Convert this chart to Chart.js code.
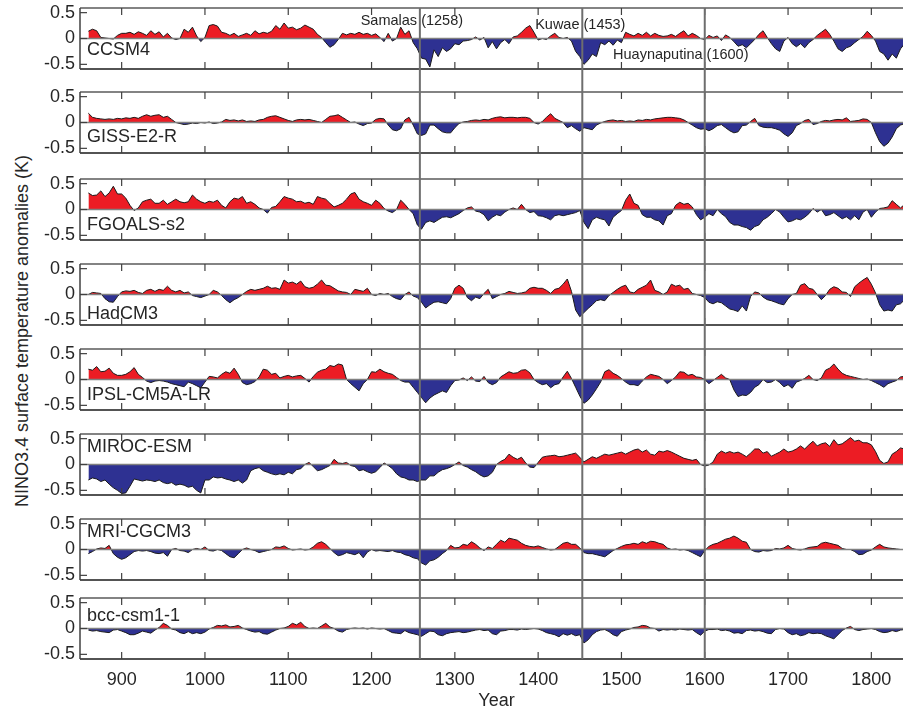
<!DOCTYPE html>
<html>
<head>
<meta charset="utf-8">
<title>NINO3.4 anomalies after eruptions</title>
<script src="https://cdn.jsdelivr.net/npm/chart.js@4.4.0/dist/chart.umd.min.js"></script>
<style>
  html, body { margin: 0; padding: 0; background: #fff; overflow: hidden; }
  #figure { position: relative; width: 903px; height: 710px; overflow: hidden; }
  #figure canvas { position: absolute; left: 0; }
  #ytitle {
    position: absolute; left: 22px; top: 331px;
    transform: translate(-50%, -50%) rotate(-90deg);
    font: 18px 'Liberation Sans', Arial, sans-serif; color: #262626; white-space: nowrap;
  }
</style>
</head>
<body>
<div id="figure">
  <div id="ytitle">NINO3.4 surface temperature anomalies (K)</div>
</div>
<script>
// values every 5 years, 860 .. 1840
const startYear = 860;
const yearStep = 5;

const modelNames = ['CCSM4', 'GISS-E2-R', 'FGOALS-s2', 'HadCM3', 'IPSL-CM5A-LR', 'MIROC-ESM', 'MRI-CGCM3', 'bcc-csm1-1'];

const ccsm4 = [
  0.14, 0.18, 0.15, 0.02, 0.01, 0.0, -0.01, 0.06, 0.1, 0.1,
  0.12, 0.08, 0.13, 0.1, 0.06, 0.15, 0.08, 0.13, 0.03, 0.1,
  0.01, -0.02, 0.0, 0.18, 0.12, 0.22, 0.05, -0.06, 0.02, 0.25,
  0.27, 0.24, 0.12, 0.1, 0.06, 0.1, 0.04, 0.07, 0.1, 0.06,
  0.15, 0.09, 0.12, 0.1, 0.14, 0.25, 0.18, 0.3, 0.2, 0.22,
  0.17, 0.2, 0.26, 0.22, 0.18, 0.08, 0.02, -0.08, -0.17, -0.12,
  -0.02, 0.1, 0.07, 0.1, 0.08, 0.12, 0.08, 0.1, 0.06, 0.09,
  0.02, -0.06, 0.1, -0.05, 0.0, 0.22, 0.08, 0.15, -0.08, -0.2,
  -0.38, -0.4, -0.55, -0.22, -0.35, -0.18, -0.25, -0.2, -0.1, -0.12,
  -0.05, -0.04, -0.02, 0.03, -0.03, 0.02, -0.18, -0.06, -0.2, -0.08,
  -0.02, -0.1, 0.03, 0.05, 0.12, 0.2, 0.25, 0.12, -0.03, 0.0,
  -0.02, 0.05, 0.1, 0.02, 0.0, 0.02, -0.05, -0.25, -0.35, -0.5,
  -0.42, -0.3, -0.35, -0.08, -0.12, -0.05, -0.13, -0.03, -0.08, 0.12,
  0.08, 0.05, 0.1, 0.06, 0.12, 0.05, 0.1, 0.06, 0.04, 0.05,
  0.08, 0.04, 0.1, 0.15, 0.05, 0.1, 0.06, 0.0, -0.02, 0.06,
  0.02, 0.05, -0.04, 0.07, 0.02, -0.06, -0.15, -0.12, -0.18, -0.1,
  -0.02, 0.08, 0.15, 0.02, -0.1, -0.2, -0.25, -0.05, 0.02, -0.1,
  -0.16, -0.1, -0.18, -0.08, -0.02, 0.06, 0.12, 0.18, 0.08, -0.05,
  -0.2, -0.25, -0.18, -0.15, -0.08, -0.02, 0.04, 0.14, 0.06, -0.05,
  -0.25, -0.3, -0.42, -0.3, -0.38, -0.2, -0.1
];

const gissE2R = [
  0.18, 0.1, 0.08, 0.07, 0.06, 0.07, 0.06, 0.08, 0.07, 0.09,
  0.08, 0.1, 0.08, 0.12, 0.15, 0.12, 0.14, 0.15, 0.1, 0.12,
  0.06, 0.0, -0.02, -0.04, -0.03, -0.01, -0.02, 0.0, -0.01, 0.01,
  -0.02, -0.01, 0.01, 0.06, 0.04, 0.05, 0.03, 0.05, 0.02, 0.03,
  0.02, 0.05, 0.06, 0.1, 0.12, 0.13, 0.1, 0.07, 0.04, 0.02,
  0.05, 0.06, 0.05, 0.06, 0.04, 0.02, 0.0, 0.06, 0.12, 0.13,
  0.15, 0.1, 0.05, 0.0, 0.01, -0.03, -0.06, -0.02, -0.01, 0.06,
  0.08, 0.07, -0.05, -0.14, -0.16, -0.12, 0.05, 0.1, -0.05, -0.22,
  -0.25, -0.22, -0.05, -0.05, -0.12, -0.18, -0.2, -0.2, -0.1, -0.02,
  0.01, 0.02, 0.04, 0.05, 0.04, 0.06, 0.05, 0.08, 0.1, 0.11,
  0.09, 0.1, 0.1, 0.09, 0.1, 0.1, 0.08, 0.0, -0.03, 0.02,
  0.1, 0.17, 0.08, 0.04, 0.0, -0.1, -0.06, -0.12, -0.17, -0.1,
  -0.12, -0.14, -0.05, -0.01, 0.02, 0.04, 0.05, 0.03, 0.04, 0.02,
  0.03, 0.02, 0.05, 0.04, 0.06, 0.05, 0.07, 0.08, 0.09, 0.1,
  0.1, 0.09, 0.08, 0.05, 0.0, -0.05, -0.1, -0.13, -0.12, -0.16,
  -0.12, -0.06, -0.04, -0.1, -0.16, -0.2, -0.18, -0.06, -0.05, 0.02,
  0.08, -0.06, -0.09, -0.1, -0.1, -0.12, -0.15, -0.22, -0.27, -0.2,
  -0.06, -0.02, 0.04, 0.06, -0.04, -0.02, 0.02, 0.04, 0.03, 0.05,
  0.06, 0.05, 0.09, 0.02, 0.03, 0.04, 0.07, 0.06, 0.0, -0.2,
  -0.37, -0.46, -0.4, -0.28, -0.12, -0.05, -0.02
];

const fgoalsS2 = [
  0.32, 0.27, 0.28, 0.36, 0.25, 0.32, 0.45, 0.3, 0.3, 0.22,
  0.08, -0.02, 0.03, 0.15, 0.18, 0.2, 0.12, 0.12, 0.18, 0.1,
  0.15, 0.2, 0.15, 0.13, 0.15, 0.28, 0.2, 0.15, 0.12, 0.16,
  0.14, 0.18, 0.08, 0.03, 0.15, 0.22, 0.2, 0.25, 0.12, 0.15,
  0.1, 0.03, 0.0, -0.07, 0.04, 0.06, 0.15, 0.25, 0.22, 0.2,
  0.15, 0.16, 0.12, 0.14, 0.1, 0.25, 0.22, 0.2, 0.12, 0.05,
  0.08, 0.12, 0.2, 0.3, 0.33, 0.2, 0.15, 0.12, 0.08, 0.18,
  0.12, 0.02, -0.03, -0.06, 0.0, 0.18, 0.1, 0.0, -0.08, -0.3,
  -0.38, -0.25, -0.22, -0.25, -0.2, -0.15, -0.14, -0.16, -0.12, -0.08,
  -0.02, 0.03, 0.05, -0.03, -0.05, -0.1, -0.22, -0.15, -0.1, -0.12,
  -0.05, 0.0, 0.03, 0.0, 0.1, 0.0, -0.06, -0.04, -0.12, -0.13,
  -0.16, -0.2, -0.12, -0.1, -0.12, -0.1, -0.08, -0.06, -0.02, -0.25,
  -0.37, -0.2, -0.15, -0.18, -0.2, -0.32, -0.15, -0.08, -0.02, 0.18,
  0.3, 0.12, 0.08, -0.1, -0.15, -0.15, -0.2, -0.22, -0.3, -0.12,
  -0.08, 0.08, 0.14, 0.1, 0.12, 0.05, -0.1, -0.2, -0.15, -0.08,
  -0.12, 0.0, -0.08, -0.14, -0.25, -0.3, -0.3, -0.33, -0.35, -0.4,
  -0.33, -0.3, -0.2, -0.15, -0.08, 0.0, -0.05, -0.15, -0.24, -0.22,
  -0.18, -0.2, -0.15, -0.08, 0.02, -0.05, 0.0, -0.12, -0.1, -0.06,
  -0.12, -0.18, -0.14, -0.2, -0.12, -0.2, -0.05, 0.0, -0.15, -0.05,
  0.02, 0.03, 0.05, 0.17, 0.1, 0.03, 0.1
];

const hadcm3 = [
  0.0, 0.04, 0.03, 0.02, -0.08, -0.14, -0.15, -0.04, 0.05, 0.07,
  0.06, 0.08, 0.04, 0.02, 0.08, 0.1, 0.06, 0.1, 0.08, 0.16,
  0.08, 0.05, 0.08, 0.03, 0.05, -0.02, -0.04, -0.06, -0.03, 0.0,
  0.08, 0.05, -0.02, -0.1, -0.16, -0.1, -0.06, 0.0, 0.06, 0.1,
  0.08, 0.1, 0.12, 0.16, 0.12, 0.13, 0.1, 0.28, 0.22, 0.24,
  0.2, 0.26, 0.15, 0.12, 0.14, 0.2, 0.28, 0.18, 0.17, 0.12,
  0.07, 0.05, 0.04, 0.0, 0.1, 0.08, 0.06, 0.12, 0.0, -0.02,
  0.02, 0.0, 0.02, -0.04, -0.08, -0.1, 0.0, 0.05, -0.03, -0.06,
  -0.15, -0.26, -0.2, -0.15, -0.14, -0.16, -0.18, -0.08, 0.12, 0.18,
  0.12, -0.06, -0.12, -0.05, -0.08, 0.02, 0.1, -0.08, -0.04, 0.0,
  0.02, 0.06, 0.04, 0.02, 0.03, 0.05, 0.12, 0.14, 0.12, 0.12,
  0.08, 0.02, 0.1, 0.12, 0.2, 0.3, 0.06, -0.3, -0.43, -0.35,
  -0.27, -0.2, -0.12, -0.1, -0.12, -0.02, 0.04, 0.1, 0.15, 0.18,
  0.05, 0.03, 0.1, 0.14, 0.18, 0.28, 0.08, 0.05, 0.0, 0.05,
  0.2, 0.16, 0.18, 0.1, 0.12, 0.02, 0.0, -0.02, -0.06, -0.15,
  -0.18, -0.14, -0.16, -0.22, -0.28, -0.3, -0.33, -0.22, -0.32, -0.04,
  0.05, 0.03, -0.05, -0.1, -0.12, -0.15, -0.18, -0.2, -0.08, 0.0,
  0.02, 0.18, 0.21, 0.12, 0.1, 0.0, -0.1, -0.02, 0.1, 0.15,
  0.12, 0.05, 0.04, -0.04, 0.15, 0.22, 0.28, 0.33, 0.2, 0.03,
  -0.2, -0.32, -0.3, -0.32, -0.2, -0.18, -0.1
];

const ipslCm5aLr = [
  0.2, 0.18, 0.25, 0.15, 0.16, 0.22, 0.12, 0.08, 0.08, 0.1,
  0.15, 0.23, 0.1, 0.04, -0.03, -0.06, -0.03, -0.02, -0.03, -0.05,
  -0.08, -0.1, -0.12, -0.14, -0.05, -0.08, -0.12, -0.16, -0.05, 0.06,
  0.05, 0.03, 0.1, 0.15, 0.12, 0.22, 0.1, -0.06, -0.1, -0.08,
  -0.04, 0.05, 0.2, 0.18, 0.1, 0.12, 0.03, 0.06, 0.08, 0.05,
  0.07, 0.08, 0.02, -0.05, 0.06, 0.14, 0.18, 0.2, 0.27, 0.25,
  0.3, 0.28, 0.0, -0.08, -0.15, -0.22, -0.08, 0.0, 0.15, 0.14,
  0.2, 0.15, 0.12, 0.1, 0.04, -0.02, -0.05, -0.05, -0.15, -0.25,
  -0.35, -0.45, -0.36, -0.3, -0.26, -0.22, -0.25, -0.12, -0.02, -0.01,
  0.03, -0.02, 0.05, -0.03, -0.04, 0.06, -0.06, -0.1, -0.06, 0.05,
  0.1, 0.15, 0.12, 0.13, 0.18, 0.19, 0.13, 0.0, -0.06, -0.1,
  -0.08, -0.16, -0.1, -0.08, 0.05, 0.16, 0.02, -0.15, -0.32, -0.46,
  -0.4, -0.3, -0.18, -0.05, 0.15, 0.19, 0.12, 0.08, 0.02, -0.05,
  -0.1, -0.1, -0.12, -0.03, 0.05, 0.1, 0.08, 0.06, 0.0, -0.08,
  -0.02, 0.05, 0.15, 0.14, 0.08, 0.1, 0.05, 0.04, 0.0, -0.08,
  -0.02, 0.04, 0.1, 0.03, 0.0, -0.2, -0.33, -0.3, -0.31, -0.25,
  -0.15, -0.1, 0.0, -0.06, -0.05, 0.0, -0.06, -0.14, -0.1, -0.17,
  -0.05, -0.02, 0.02, 0.08, 0.0, -0.02, 0.03, 0.18, 0.22, 0.3,
  0.2, 0.12, 0.08, 0.06, 0.04, 0.02, 0.0, 0.01, -0.02, -0.06,
  -0.1, -0.15, -0.08, -0.05, -0.02, 0.05, 0.06
];

const mirocEsm = [
  -0.3, -0.26, -0.28, -0.33, -0.3, -0.38, -0.45, -0.5, -0.56, -0.55,
  -0.42, -0.28, -0.3, -0.32, -0.3, -0.31, -0.33, -0.3, -0.35, -0.37,
  -0.35, -0.4, -0.38, -0.4, -0.44, -0.42, -0.5, -0.55, -0.3, -0.3,
  -0.24, -0.26, -0.25, -0.28, -0.3, -0.33, -0.3, -0.36, -0.3, -0.12,
  -0.08, -0.06, -0.12, -0.15, -0.18, -0.2, -0.18, -0.2, -0.15, -0.18,
  -0.1, -0.08, 0.0, 0.04, -0.04, -0.12, -0.1, -0.06, -0.02, 0.1,
  0.03, 0.02, 0.04, -0.02, -0.04, -0.12, -0.1, -0.14, -0.17, -0.14,
  -0.06, 0.03, -0.02, -0.08, -0.18, -0.24, -0.26, -0.3, -0.3, -0.33,
  -0.3, -0.3, -0.22, -0.22, -0.15, -0.1, -0.08, -0.05, 0.0, 0.05,
  -0.02, -0.05, -0.1, -0.14, -0.2, -0.24, -0.22, -0.15, 0.0, 0.06,
  0.1, 0.2, 0.14, 0.1, 0.14, 0.03, -0.05, -0.06, 0.04, 0.14,
  0.16, 0.17, 0.18, 0.15, 0.16, 0.18, 0.2, 0.22, 0.14, 0.05,
  0.1, 0.15, 0.12, 0.16, 0.2, 0.18, 0.2, 0.22, 0.24, 0.2,
  0.24, 0.28, 0.3, 0.24, 0.28, 0.2, 0.18, 0.26, 0.24, 0.27,
  0.24, 0.2, 0.16, 0.12, 0.1, 0.08, 0.1, 0.0, -0.03, -0.01,
  0.05, 0.2, 0.26, 0.22, 0.25, 0.22, 0.24, 0.2, 0.15, 0.22,
  0.3, 0.3, 0.22, 0.25, 0.16, 0.2, 0.24, 0.3, 0.24, 0.26,
  0.3, 0.36, 0.3, 0.38, 0.45, 0.36, 0.4, 0.42, 0.35, 0.48,
  0.38, 0.4, 0.46, 0.52, 0.45, 0.47, 0.42, 0.42, 0.38, 0.25,
  0.08, 0.02, 0.05, 0.2, 0.25, 0.32, 0.3
];

const mriCgcm3 = [
  -0.08, -0.04, 0.01, 0.03, 0.02, 0.08, -0.08, -0.15, -0.19, -0.16,
  -0.1, -0.04, -0.02, -0.03, -0.02, -0.04, -0.07, -0.08, -0.06, -0.13,
  0.0, 0.02, -0.02, -0.03, -0.06, 0.0, 0.02, 0.0, 0.05, -0.02,
  -0.03, 0.0, -0.02, -0.08, -0.14, -0.16, -0.08, 0.0, 0.03, 0.0,
  -0.02, -0.06, -0.04, -0.02, 0.0, 0.05, 0.04, 0.07, 0.02, -0.01,
  0.0, 0.01, -0.01, 0.0, 0.05, 0.12, 0.15, 0.1, 0.02, -0.06,
  -0.12, -0.1, -0.06, -0.08, -0.1, -0.06, -0.16, -0.05, 0.0, -0.03,
  -0.02, -0.03, -0.04, -0.02, -0.05, -0.06, -0.1, -0.12, -0.16, -0.18,
  -0.26, -0.3, -0.22, -0.2, -0.15, -0.08, -0.02, 0.08, 0.03, 0.04,
  0.1, 0.08, 0.15, 0.1, 0.03, -0.02, 0.05, 0.02, 0.1, 0.18,
  0.14, 0.22, 0.2, 0.18, 0.12, 0.08, 0.06, 0.05, 0.07, 0.04,
  0.01, -0.01, 0.0, 0.06, 0.12, 0.14, 0.1, 0.1, 0.03, -0.06,
  -0.08, -0.08, -0.1, -0.12, -0.14, -0.08, -0.02, 0.02, 0.06, 0.09,
  0.1, 0.12, 0.1, 0.15, 0.12, 0.16, 0.15, 0.12, 0.1, 0.03,
  0.0, 0.01, -0.01, 0.0, -0.02, -0.06, -0.1, -0.14, -0.02, 0.06,
  0.1, 0.12, 0.16, 0.2, 0.22, 0.26, 0.22, 0.16, 0.14, 0.0,
  -0.04, -0.05, -0.02, -0.03, -0.02, 0.02, 0.01, 0.03, 0.08, 0.02,
  0.0, -0.01, 0.01, 0.04, 0.05, 0.06, 0.12, 0.14, 0.12, 0.1,
  0.08, 0.02, 0.0, 0.0, -0.04, -0.1, -0.09, -0.04, -0.01, 0.05,
  0.1, 0.05, 0.03, 0.02, 0.01, 0.0, 0.0
];

const bccCsm11 = [
  -0.03, -0.05, -0.04, -0.06, -0.07, -0.08, -0.03, -0.02, -0.05, -0.08,
  -0.12, -0.12, -0.09, -0.05, -0.07, -0.09, -0.03, 0.02, 0.1, 0.06,
  -0.01, -0.03, -0.08, -0.1, -0.06, -0.1, -0.08, -0.1, -0.07, -0.01,
  0.02, 0.06, 0.05, 0.07, 0.03, 0.04, 0.06, 0.01, -0.02, -0.05,
  -0.07, -0.06, -0.1, -0.11, -0.07, -0.03, 0.0, 0.01, 0.04, 0.1,
  0.07, 0.12, 0.04, 0.0, 0.01, 0.0, 0.05, 0.1, 0.03, 0.0,
  -0.05, -0.07, -0.02, 0.0, 0.01, 0.0, 0.01, -0.01, 0.01, 0.0,
  -0.01, 0.0, -0.04, -0.08, -0.09, -0.1, -0.04, -0.08, -0.1, -0.12,
  -0.15, -0.1, -0.05, -0.06, -0.12, -0.14, -0.1, -0.08, -0.07, -0.06,
  -0.08, -0.07, -0.05, -0.03, -0.02, -0.04, -0.03, -0.1, -0.12, -0.05,
  -0.04, -0.02, -0.02, -0.03, -0.01, -0.02, -0.01, 0.0, -0.01, -0.04,
  -0.08, -0.1, -0.12, -0.16, -0.1, -0.13, -0.1, -0.14, -0.12, -0.28,
  -0.22, -0.12, -0.06, -0.03, -0.02, -0.06, -0.12, -0.15, -0.06, -0.03,
  -0.01, 0.02, 0.03, 0.06, 0.05, 0.01, 0.0, -0.05, -0.02, -0.03,
  -0.02, -0.03, -0.01, -0.02, -0.03, -0.02, -0.08, -0.13, -0.05, -0.02,
  -0.02, -0.01, -0.04, -0.03, -0.05, -0.09, -0.08, -0.1, -0.04, -0.03,
  -0.05, -0.04, -0.06, -0.09, -0.1, -0.02, 0.0, -0.01, -0.08, -0.12,
  -0.1, -0.14, -0.12, -0.08, -0.1, -0.09, -0.1, -0.14, -0.17, -0.2,
  -0.12, -0.04, 0.01, 0.04, -0.02, -0.04, -0.02, -0.01, 0.0, -0.02,
  -0.06, -0.08, -0.07, -0.04, -0.06, -0.03, -0.02
];

const xTickYears = [900, 1000, 1100, 1200, 1300, 1400, 1500, 1600, 1700, 1800];
const yTickValues = [-0.5, 0, 0.5];

const eruptionNames = ['Samalas', 'Kuwae', 'Huaynaputina'];
const eruptionYears = [1258, 1453, 1600];

const seriesList = [ccsm4, gissE2R, fgoalsS2, hadcm3, ipslCm5aLr, mirocEsm, mriCgcm3, bccCsm11];

// layout (pixels) and label placement
const panelTops = [8, 92, 179, 264, 349, 434, 519, 598];
const panelHeight = 61;
const nameLabelAt = [-0.23, -0.29, -0.31, -0.37, -0.31, 0.33, 0.33, 0.25];
const eruptionLabelPos = [{ dx: -8, y: 0.33 }, { dx: -2, y: 0.26 }, { dx: -24, y: -0.31 }];

const textColor = '#262626';
const fontFamily = "'Liberation Sans', Arial, Helvetica, sans-serif";
Chart.defaults.font.family = fontFamily;
Chart.defaults.color = textColor;

function strokeLine(ctx, x1, y1, x2, y2) {
    ctx.beginPath();
    ctx.moveTo(x1, y1);
    ctx.lineTo(x2, y2);
    ctx.stroke();
}

const panelDecor = {
    id: 'panelDecor',
    afterDatasetsDraw(chart, args, opts) {
        const { ctx, chartArea: a } = chart;
        const x = chart.scales.x;
        const y = chart.scales.y;
        ctx.save();

        // zero line
        const y0 = y.getPixelForValue(0);
        ctx.strokeStyle = '#808080';
        ctx.lineWidth = 1.5;
        strokeLine(ctx, a.left, y0, a.right, y0);

        // box
        ctx.lineWidth = 1.5;
        ctx.strokeStyle = '#5a5a5a';
        strokeLine(ctx, a.left, a.top, a.right, a.top);
        ctx.strokeStyle = '#1a1a1a';
        strokeLine(ctx, a.left, a.bottom, a.right, a.bottom);
        ctx.strokeStyle = '#404040';
        strokeLine(ctx, a.left, a.top, a.left, a.bottom);

        // inward ticks
        ctx.lineWidth = 1.2;
        xTickYears.forEach(v => {
            const px = x.getPixelForValue(v);
            strokeLine(ctx, px, a.top, px, a.top + 7);
            strokeLine(ctx, px, a.bottom, px, a.bottom - 7);
        });
        yTickValues.forEach(v => {
            const py = y.getPixelForValue(v);
            strokeLine(ctx, a.left, py, a.left + 7, py);
        });

        // y tick labels (drawn here so they do not push the plot area)
        ctx.fillStyle = textColor;
        ctx.font = '18px ' + fontFamily;
        ctx.textAlign = 'right';
        ctx.textBaseline = 'middle';
        yTickValues.forEach(v => {
            ctx.fillText(String(v), a.left - 5, y.getPixelForValue(v));
        });

        // eruption lines run through the gaps between panels
        ctx.strokeStyle = '#6e6e6e';
        ctx.lineWidth = 2;
        const top = opts.first ? a.top : 0;
        const bottom = opts.last ? a.bottom : chart.height;
        eruptionYears.forEach(yr => {
            const px = x.getPixelForValue(yr);
            strokeLine(ctx, px, top, px, bottom);
        });

        // model name
        ctx.textAlign = 'left';
        ctx.fillText(opts.name, a.left + 7, y.getPixelForValue(opts.labelAt));

        if (opts.first) {
            ctx.font = '14.5px ' + fontFamily;
            ctx.textAlign = 'center';
            eruptionNames.forEach((name, i) => {
                const pos = eruptionLabelPos[i];
                const px = x.getPixelForValue(eruptionYears[i]) + pos.dx;
                ctx.fillText(`${name} (${eruptionYears[i]})`, px, y.getPixelForValue(pos.y));
            });
        }
        ctx.restore();
    }
};

const figure = document.getElementById('figure');
const bounds = panelTops.map((t, i) => i === 0 ? 0 : Math.round((panelTops[i - 1] + panelHeight + t) / 2));
bounds.push(710);

seriesList.forEach((series, i) => {
    const first = i === 0;
    const last = i === seriesList.length - 1;
    const h = bounds[i + 1] - bounds[i];
    const padTop = panelTops[i] - bounds[i];
    const padBottom = bounds[i + 1] - panelTops[i] - panelHeight;

    const canvas = document.createElement('canvas');
    canvas.width = 913;
    canvas.height = h;
    canvas.style.top = bounds[i] + 'px';
    canvas.style.width = '913px';
    canvas.style.height = h + 'px';
    figure.appendChild(canvas);

    const xScale = {
        type: 'linear',
        min: 850,
        max: 1850,
        display: last,
        afterBuildTicks: s => { s.ticks = xTickYears.map(v => ({ value: v })); },
        grid: { display: false },
        border: { display: false },
        ticks: {
            font: { size: 18 },
            color: textColor,
            padding: 2,
            maxRotation: 0,
            autoSkip: false,
            callback: v => String(v)
        },
        title: {
            display: true,
            text: 'Year',
            font: { size: 18, lineHeight: 1 },
            color: textColor,
            padding: 0
        }
    };
    if (last) {
        xScale.afterFit = s => { s.height = padBottom; };
    }

    new Chart(canvas, {
        type: 'line',
        data: {
            datasets: [{
                data: series.map((v, k) => ({ x: startYear + k * yearStep, y: v })),
                borderColor: '#1a1a1a',
                borderWidth: 1,
                pointRadius: 0,
                tension: 0,
                fill: {
                    target: { value: 0 },
                    above: '#ec1c24',
                    below: '#2e3192'
                }
            }]
        },
        options: {
            responsive: false,
            animation: false,
            devicePixelRatio: 1,
            layout: {
                autoPadding: false,
                padding: { top: padTop, bottom: last ? 0 : padBottom, left: 0, right: 0 }
            },
            plugins: {
                legend: { display: false },
                tooltip: { enabled: false },
                panelDecor: {
                    name: modelNames[i],
                    labelAt: nameLabelAt[i],
                    first: first,
                    last: last
                }
            },
            scales: {
                x: xScale,
                y: {
                    min: -0.59,
                    max: 0.59,
                    afterBuildTicks: s => { s.ticks = yTickValues.map(v => ({ value: v })); },
                    afterFit: s => { s.width = 80; },
                    grid: { display: false },
                    border: { display: false },
                    ticks: { display: false }
                }
            }
        },
        plugins: [panelDecor]
    });
});
</script>
</body>
</html>
